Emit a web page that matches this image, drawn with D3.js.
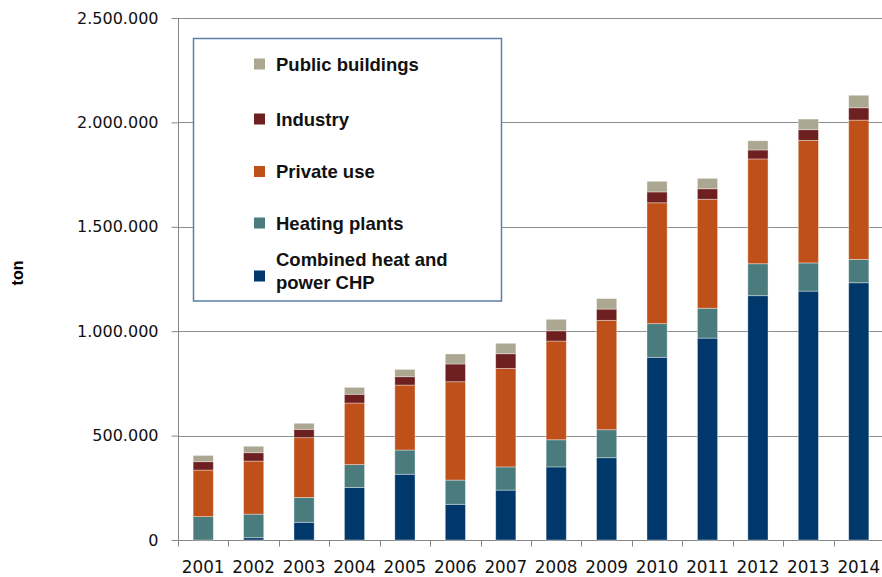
<!DOCTYPE html>
<html>
<head>
    <meta charset="utf-8">
    <title>Stacked bars - ton</title>
    <script src="https://cdn.jsdelivr.net/npm/d3@7"></script>
    <style>
        body { margin: 0; background: #fff; }
        .tick text { font-family: "DejaVu Sans", sans-serif; font-size: 16px; fill: #111; }
        .legend text { font-family: "Liberation Sans", Arial, sans-serif; font-weight: bold; font-size: 18.5px; fill: #111; }
    </style>
</head>
<body>
<script>
    // values (ton)
    var years = ["2001","2002","2003","2004","2005","2006","2007","2008","2009","2010","2011","2012","2013","2014"];
    var chp       = [0, 11000, 85000, 252000, 315000, 171000, 239000, 350000, 394000, 875000, 967000, 1170000, 1192000, 1232000];
    var heating   = [112000, 113000, 119000, 109000, 116000, 116000, 111000, 130000, 134000, 161000, 143000, 153000, 135000, 112000];
    var privUse   = [223000, 254000, 286000, 295000, 311000, 471000, 472000, 473000, 524000, 579000, 522000, 502000, 587000, 667000];
    var industry  = [40000, 40000, 40000, 42000, 40000, 85000, 70000, 49000, 54000, 52000, 50000, 43000, 51000, 59000];
    var publicB   = [30000, 31000, 29000, 33000, 35000, 48000, 50000, 55000, 50000, 51000, 50000, 44000, 51000, 60000];
    var yTicks = [0, 500000, 1000000, 1500000, 2000000, 2500000];

    var series = [
        {key: "chp", name: ["Combined heat and", "power CHP"], values: chp, color: "#00386b"},
        {key: "heating", name: ["Heating plants"], values: heating, color: "#4a7c7e"},
        {key: "priv", name: ["Private use"], values: privUse, color: "#c0501a"},
        {key: "industry", name: ["Industry"], values: industry, color: "#6e2020"},
        {key: "public", name: ["Public buildings"], values: publicB, color: "#aba791"}
    ];

    var width = 882, height = 577;
    var plotLeft = 178, plotRight = 884, plotTop = 18, plotBottom = 540;

    var svg = d3.select("body").append("svg")
        .attr("width", width)
        .attr("height", height);

    // table for d3.stack
    var table = years.map(function(y, i) {
        var row = {year: y};
        series.forEach(function(s) { row[s.key] = s.values[i]; });
        return row;
    });
    var stacked = d3.stack().keys(series.map(function(s) { return s.key; }))(table);

    var x = d3.scaleBand().domain(years).range([plotLeft, plotRight]).padding(0);
    var y = d3.scaleLinear().domain([0, 2500000]).range([plotBottom, plotTop]);
    var barW = x.bandwidth() * 0.4;

    var fmt = function(d) { return d3.format(",")(d).replace(/,/g, "."); };

    // gridlines
    svg.append("g").selectAll("line")
        .data(yTicks.slice(1))
        .join("line")
        .attr("x1", plotLeft).attr("x2", 882)
        .attr("y1", function(d) { return Math.round(y(d)) + 0.5; })
        .attr("y2", function(d) { return Math.round(y(d)) + 0.5; })
        .attr("stroke", "#8f8f8f");

    // y axis
    var yAxis = svg.append("g")
        .attr("transform", "translate(" + (plotLeft + 0.5) + ",0)")
        .call(d3.axisLeft(y).tickValues(yTicks).tickFormat(fmt).tickSize(7).tickPadding(13));
    yAxis.selectAll("line, path").attr("stroke", "#868686");
    yAxis.select(".domain").attr("d", "M0," + plotTop + "V" + plotBottom);

    // x axis: ticks at category boundaries
    var xAxis = svg.append("g")
        .attr("transform", "translate(0," + (plotBottom + 0.5) + ")");
    xAxis.append("line").attr("x1", plotLeft).attr("x2", 882).attr("stroke", "#868686");
    xAxis.selectAll("line.t")
        .data(years)
        .join("line")
        .attr("class", "t")
        .attr("x1", function(d) { return Math.round(x(d)) + 0.5; })
        .attr("x2", function(d) { return Math.round(x(d)) + 0.5; })
        .attr("y1", 0).attr("y2", 6)
        .attr("stroke", "#868686");
    xAxis.selectAll("text")
        .data(years)
        .join("text")
        .attr("x", function(d) { return x(d) + x.bandwidth() / 2; })
        .attr("y", 32)
        .attr("text-anchor", "middle")
        .style("font-family", "DejaVu Sans, sans-serif")
        .style("font-size", "16.8px")
        .style("fill", "#111")
        .text(function(d) { return d; });

    // bars
    svg.append("g").selectAll("g")
        .data(stacked)
        .join("g")
        .attr("fill", function(d, i) { return series[i].color; })
        .selectAll("rect")
        .data(function(d) { return d; })
        .join("rect")
        .attr("x", function(d) { return x(d.data.year) + (x.bandwidth() - barW) / 2; })
        .attr("width", barW)
        .attr("y", function(d) { return y(d[1]); })
        .attr("height", function(d) { return Math.max(0, y(d[0]) - y(d[1])); })
        .attr("stroke", "rgba(255,255,255,0.45)")
        .attr("stroke-width", 0.8);

    // y label
    svg.append("text")
        .attr("transform", "translate(23,273) rotate(-90)")
        .attr("text-anchor", "middle")
        .style("font-family", "Liberation Sans, Arial, sans-serif")
        .style("font-weight", "bold")
        .style("font-size", "16px")
        .text("ton");

    // legend
    var legend = svg.append("g").attr("class", "legend");
    legend.append("rect")
        .attr("x", 193.5).attr("y", 38.5)
        .attr("width", 308).attr("height", 262.5)
        .attr("fill", "#fff")
        .attr("stroke", "#5b7fa6")
        .attr("stroke-width", 1.5);

    var legendY = [64, 119, 171.5, 223, 271];
    var legendItems = series.slice().reverse();
    legendItems.forEach(function(s, i) {
        var cy = legendY[i];
        legend.append("rect")
            .attr("x", 254).attr("y", (i === 4 ? 276 : cy) - 5.5)
            .attr("width", 11).attr("height", 11)
            .attr("fill", s.color);
        var t = legend.append("text")
            .attr("x", 276)
            .attr("y", cy + 6.5 - (s.name.length - 1) * 11.5);
        s.name.forEach(function(line, j) {
            t.append("tspan").attr("x", 276).attr("dy", j === 0 ? 0 : 23).text(line);
        });
    });
</script>
</body>
</html>
